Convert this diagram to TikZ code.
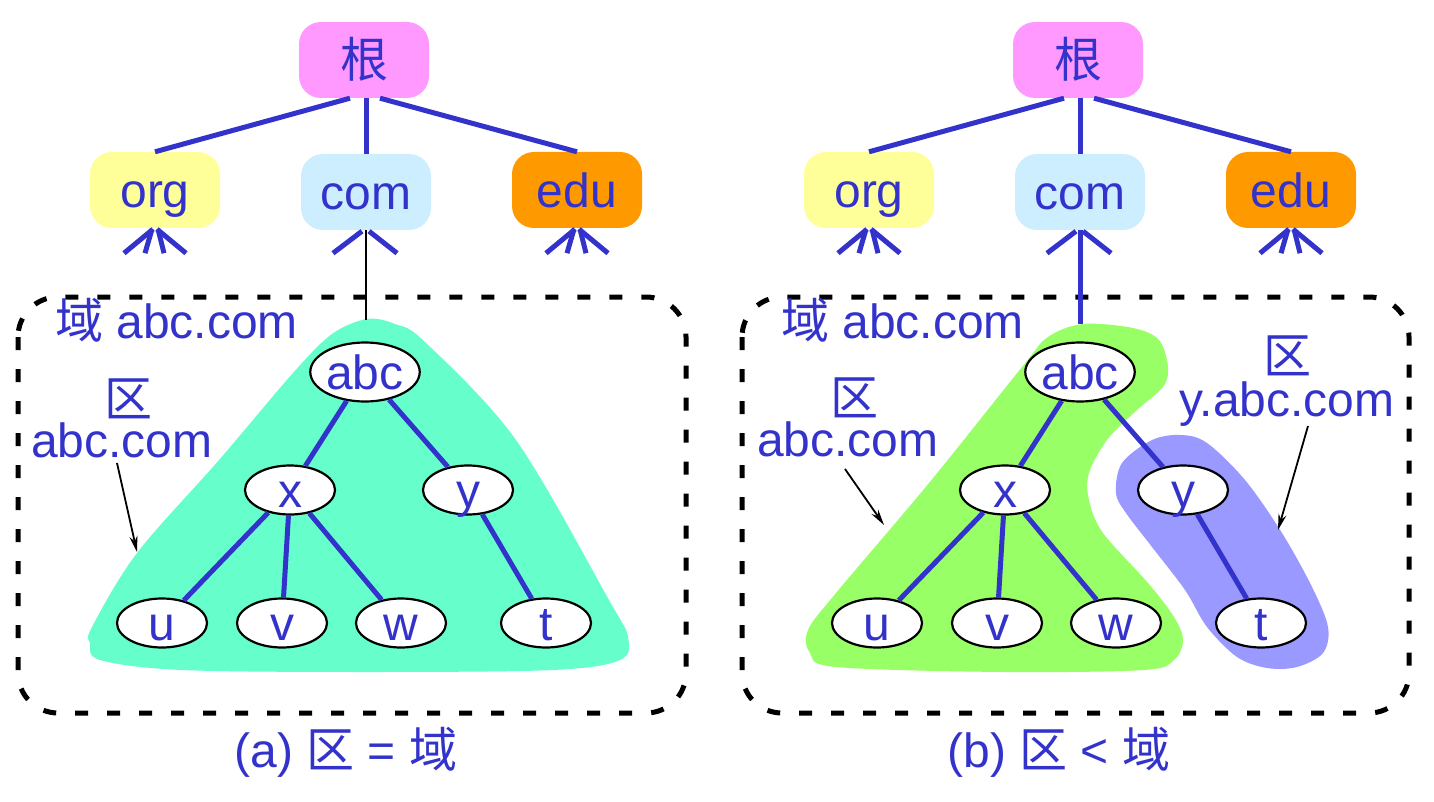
\documentclass[tikz,border=0pt]{standalone}
\usepackage{fontspec}
\setmainfont{Liberation Sans}
\newfontfamily\cjk{Noto Sans CJK SC}
\usetikzlibrary{arrows.meta,calc,shapes.geometric}
\definecolor{tblue}{HTML}{3333CC}
\definecolor{rootc}{HTML}{FF99FF}
\definecolor{orgc}{HTML}{FFFF99}
\definecolor{comc}{HTML}{CCEEFF}
\definecolor{educ}{HTML}{FF9900}
\definecolor{tealc}{HTML}{66FFCC}
\definecolor{greenc}{HTML}{99FF66}
\definecolor{bluec}{HTML}{9999FF}
\newcommand\bigfont{\fontsize{48}{50}\selectfont}
\newcommand\fourfork[1]{%
  \draw[fork] ($(#1.south)+(-2,1)$) -- ++(-29,24);
  \draw[fork] ($(#1.south)+(-3,1)$) -- ++(-7,24);
  \draw[fork] ($(#1.south)+(3,1)$) -- ++(6,24);
  \draw[fork] ($(#1.south)+(2,1)$) -- ++(29,24);}
\newcommand\twofork[1]{%
  \draw[fork] ($(#1.south)+(-4,1)$) -- ++(-29,22);
  \draw[fork] ($(#1.south)+(3,1)$) -- ++(28,22);}
\begin{document}
\begin{tikzpicture}[x=1pt,y=-1pt,
  box/.style={rounded corners=22pt, minimum width=130pt, minimum height=76pt, inner sep=0pt,
    font=\bigfont, text=tblue, text height=36pt, text depth=0pt},
  ell/.style={ellipse, draw=black, line width=2.2pt, fill=white, minimum width=90pt, minimum height=49pt,
    inner sep=0pt, text height=34pt, text depth=0pt, font=\bigfont, text=tblue},
  edge/.style={draw=tblue, line width=5pt},
  fork/.style={draw=tblue, line width=5pt},
  dbox/.style={draw=black, line width=5pt, dash pattern=on 13pt off 19pt, rounded corners=40pt},
  lbl/.style={text=tblue, font=\bigfont, inner sep=0pt},
  pointer/.style={draw=black, line width=1.8pt, -{Stealth[length=16pt,width=8pt]}}]
\useasboundingbox (0,0) rectangle (1434,802);

% ---------- panel (a) ----------
\node[box, fill=rootc] (roota) at (364,60) {\cjk 根};
\node[box, fill=orgc] (orga) at (155,190) {org};
\node[box, fill=comc] (coma) at (366,192) {com};
\node[box, fill=educ] (edua) at (577,190) {edu};
\draw[edge] ($(roota.south)+(-14,0)$) -- (orga.north);
\draw[edge] (coma.north |- roota.south) -- (coma.north);
\draw[edge] ($(roota.south)+(16,0)$) -- (edua.north);
\fourfork{orga}
\twofork{coma}
\fourfork{edua}

\draw[dbox] (18,297) rectangle (686,713);
\fill[tealc] plot[smooth cycle, tension=0.55] coordinates {
 (367,319) (395,324) (425,342) (516,440) (609,600) (628,637) (620,660) (553,670)
 (367,672) (182,670) (100,660) (90,643) (92,627) (137,553) (219,460) (293,373) (332,334)};
\coordinate (topa) at (366,320);
\draw[line width=2pt] (coma.south) -- (topa);

\node[ell, minimum width=104pt, minimum height=59pt] (abca) at (365,372) {abc};
\node[ell] (xa) at (290,490) {x};
\node[ell] (ya) at (468,490) {y};
\node[ell] (ua) at (162,623) {u};
\node[ell] (va) at (282,623) {v};
\node[ell] (wa) at (401,623) {w};
\node[ell] (ta) at (546,623) {t};
\draw[edge] (abca) -- (xa);
\draw[edge] (abca) -- (ya);
\draw[edge] (xa) -- (ua);
\draw[edge] (xa) -- (va);
\draw[edge] (xa) -- (wa);
\draw[edge] (ya) -- (ta);

\node[lbl, anchor=base west] (doma) at (55,338) {{\cjk 域} abc.com};
\node[lbl, anchor=base] (zonea) at (128,416) {\cjk 区};
\node[lbl, anchor=base west] (zonenamea) at (31,457) {abc.com};
\coordinate (pa1) at (117,463);
\coordinate (pa2) at (137,552);
\draw[pointer] (pa1) -- (pa2);
\node[lbl, anchor=base] (capa) at (346,767) {(a) {\cjk 区} = {\cjk 域}};

% ---------- panel (b) ----------
\node[box, fill=rootc] (rootb) at (1078,60) {\cjk 根};
\node[box, fill=orgc] (orgb) at (869,190) {org};
\node[box, fill=comc] (comb) at (1080,192) {com};
\node[box, fill=educ] (edub) at (1291,190) {edu};
\draw[edge] ($(rootb.south)+(-14,0)$) -- (orgb.north);
\draw[edge] (comb.north |- rootb.south) -- (comb.north);
\draw[edge] ($(rootb.south)+(16,0)$) -- (edub.north);
\fourfork{orgb}
\twofork{comb}
\fourfork{edub}

\draw[dbox] (742,297) rectangle (1409,713);
\fill[greenc] plot[smooth cycle, tension=0.55] coordinates {
 (1083,324) (1133,328) (1159,340) (1168,367) (1163,387) (1137,410) (1107,440) (1089,473)
 (1089,500) (1103,533) (1148,583) (1174,617) (1183,640) (1174,660) (1144,670) (1003,672)
 (836,667) (810,653) (808,630) (836,593) (929,483) (1022,367) (1048,337)};
\fill[bluec] plot[smooth cycle, tension=0.55] coordinates {
 (1181,435) (1207,443) (1245,480) (1282,533) (1312,587) (1328,627) (1323,653) (1297,667)
 (1267,668) (1237,657) (1207,627) (1185,590) (1152,547) (1126,513) (1116,493) (1122,463) (1152,440)};
\coordinate (topb) at (1080,324);
\draw[edge] (comb.south) -- (topb);

\node[ell, minimum width=104pt, minimum height=59pt] (abcb) at (1080,372) {abc};
\node[ell] (xb) at (1005,490) {x};
\node[ell] (yb) at (1183,490) {y};
\node[ell] (ub) at (877,623) {u};
\node[ell] (vb) at (997,623) {v};
\node[ell] (wb) at (1116,623) {w};
\node[ell] (tb) at (1261,623) {t};
\draw[edge] (abcb) -- (xb);
\draw[edge] (abcb) -- (yb);
\draw[edge] (xb) -- (ub);
\draw[edge] (xb) -- (vb);
\draw[edge] (xb) -- (wb);
\draw[edge] (yb) -- (tb);

\node[lbl, anchor=base west] (domb) at (781,338) {{\cjk 域} abc.com};
\node[lbl, anchor=base] (zoneb) at (854,415) {\cjk 区};
\node[lbl, anchor=base west] (zonenameb) at (757,456) {abc.com};
\coordinate (pb1) at (845,469);
\coordinate (pb2) at (884,525);
\draw[pointer] (pb1) -- (pb2);
\node[lbl, anchor=base] (zonec) at (1287,373) {\cjk 区};
\node[lbl, anchor=base] (zonenamec) at (1287,416) {y.abc.com};
\coordinate (pc1) at (1308,426);
\coordinate (pc2) at (1278,530);
\draw[pointer] (pc1) -- (pc2);
\node[lbl, anchor=base] (capb) at (1059,767) {(b) {\cjk 区} < {\cjk 域}};
\end{tikzpicture}
\end{document}
